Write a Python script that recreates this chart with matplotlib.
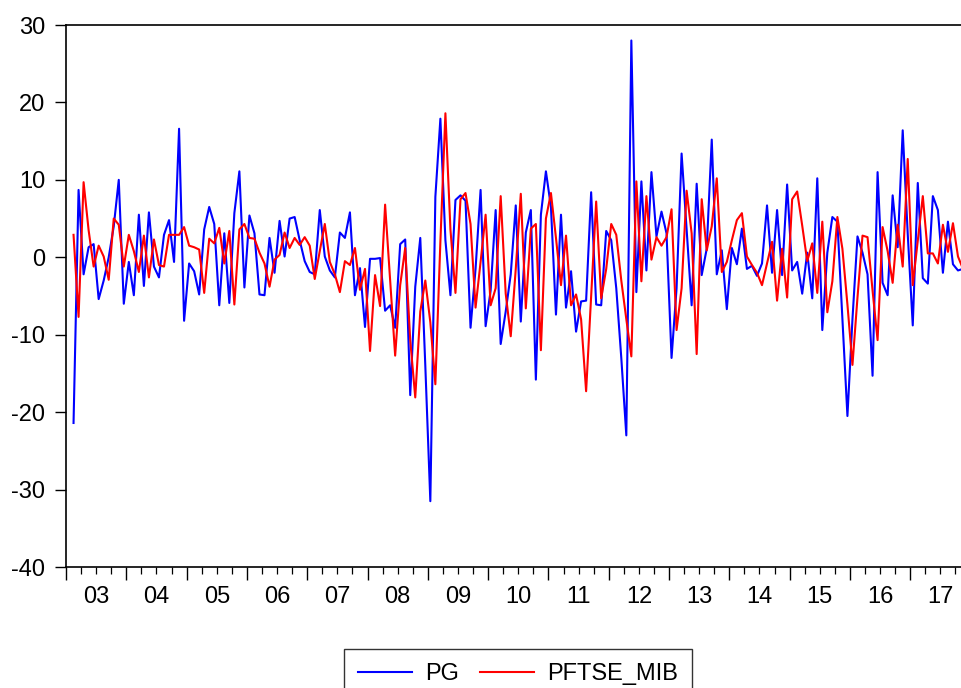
import matplotlib
matplotlib.use("Agg")
import matplotlib.pyplot as plt
import numpy as np

plt.rcParams["font.family"] = ["Liberation Sans", "DejaVu Sans"]
plt.rcParams["axes.unicode_minus"] = False

# monthly returns, 2003M02 .. 2017M11 (month index 1 = Feb 2003)
pg = [-21.4, 8.7, -2.2, 1.3, 1.7, -5.4, -3.0, 0.0, 4.0, 10.0, -6.0, -0.6,
      -4.9, 5.5, -3.7, 5.8, -1.2, -2.6, 2.9, 4.8, -0.6, 16.6, -8.2, -0.8,
      -1.8, -4.8, 3.6, 6.5, 4.3, -6.2, 3.1, -5.9, 5.7, 11.1, -3.9, 5.4,
      3.1, -4.8, -4.9, 2.5, -2.0, 4.7, 0.1, 5.0, 5.2, 2.2, -0.5, -1.9,
      -2.2, 6.1, 0.1, -1.7, -2.6, 3.2, 2.5, 5.8, -4.9, -1.4, -9.0, -0.2,
      -0.2, -0.1, -6.9, -6.2, -9.1, 1.7, 2.3, -17.8, -3.8, 2.5, -14.0, -31.5,
      7.8, 17.9, 2.2, -4.9, 7.4, 8.0, 7.3, -9.1, -1.5, 8.7, -8.9, -4.3,
      6.1, -11.2, -7.0, -2.2, 6.7, -8.3, 3.2, 6.1, -15.8, 5.5, 11.1, 6.5,
      -7.4, 5.5, -6.5, -1.8, -9.6, -5.7, -5.6, 8.4, -6.1, -6.2, 3.4, 2.2,
      -4.0, -13.0, -23.0, 28.0, -4.5, 9.8, -1.7, 11.0, 2.7, 5.9, 3.1, -13.0,
      -4.0, 13.4, 3.6, -6.2, 9.5, -2.3, 1.1, 15.2, -2.2, 0.9, -6.7, 1.2,
      -0.9, 3.7, -1.5, -1.1, -2.4, -0.8, 6.7, -2.0, 6.1, -2.3, 9.4, -1.7,
      -0.6, -4.7, 0.6, -5.3, 10.2, -9.4, 0.6, 5.2, 4.6, -8.0, -20.5, -8.0,
      2.7, 0.6, -2.2, -15.3, 11.0, -3.3, -4.9, 8.0, 1.3, 16.4, 3.0, -8.8,
      9.6, -2.7, -3.4, 7.9, 6.1, -2.0, 4.6, -0.9, -1.7, -1.5]

pftse_mib = [2.9, -7.7, 9.7, 3.5, -1.2, 1.5, 0.1, -2.9, 5.0, 4.2, -1.2, 2.9,
             0.8, -1.9, 2.8, -2.6, 2.3, -1.0, -1.2, 2.9, 2.9, 2.9, 3.9, 1.5,
             1.3, 1.0, -4.6, 2.4, 1.8, 3.8, -0.8, 3.4, -6.1, 3.6, 4.3, 2.5,
             2.4, 0.6, -0.8, -3.8, -0.3, 0.3, 3.2, 1.2, 2.5, 1.6, 2.6, 1.5,
             -2.8, 0.8, 4.3, -0.6, -2.2, -4.5, -0.5, -1.0, 1.2, -4.2, -1.5, -12.1,
             -2.3, -6.3, 6.8, -2.9, -12.7, -3.6, 1.2, -10.7, -18.1, -7.0, -3.0, -8.4,
             -16.4, 2.0, 18.6, 3.6, -4.6, 7.5, 8.3, 4.3, -6.5, -0.6, 5.5, -6.2,
             -4.0, 7.9, -4.7, -10.2, -1.5, 8.2, -6.6, 3.7, 4.3, -12.0, 5.0, 8.3,
             2.5, -3.6, 2.8, -6.2, -4.8, -8.0, -17.3, -5.0, 7.2, -5.3, -1.5, 4.3,
             2.9, -3.0, -8.0, -12.8, 9.8, -3.1, 7.9, -0.3, 2.6, 1.5, 2.6, 6.2,
             -9.4, -4.0, 8.6, 3.1, -12.5, 7.5, 0.9, 4.0, 10.2, -1.9, -0.6, 2.2,
             4.8, 5.7, 0.1, -1.0, -2.0, -3.6, -0.8, 2.0, -5.6, 1.1, -5.2, 7.5,
             8.5, 4.1, -0.5, 1.8, -4.6, 4.6, -7.1, -3.1, 5.2, 1.1, -6.1, -13.9,
             -5.2, 2.8, 2.6, -4.3, -10.7, 3.9, 0.8, -3.3, 4.2, -1.2, 12.7, -3.6,
             2.2, 7.9, 0.5, 0.5, -0.8, 4.2, 0.7, 4.4, 0.1, -1.5]

year_labels = ["03", "04", "05", "06", "07", "08", "09", "10",
               "11", "12", "13", "14", "15", "16", "17"]

# month index, point drawn at the middle of its month
months = np.arange(1, len(pg) + 1) + 0.5

FS = 17

fig = plt.figure(figsize=(9.61, 6.88), dpi=100)
ax = fig.add_axes([66 / 961, 121 / 688, 1 - 66 / 961, 542 / 688])

ax.plot(months, pg, color="#0000FF", lw=1.5, label="PG")
ax.plot(months, pftse_mib, color="#FF0000", lw=1.5, label="PFTSE_MIB")

ax.set_ylim(-40, 30)
ax.set_yticks(np.arange(-40, 31, 10))
ax.set_xlim(0, 178.1)

n_years = len(year_labels)
ax.set_xticks(np.arange(0, 12 * n_years, 12))
ax.set_xticklabels([])
ax.set_xticks(np.arange(0, 178, 3), minor=True)
ax.tick_params(axis="x", which="major", direction="out", length=9.5, width=1)
ax.tick_params(axis="x", which="minor", direction="out", length=5, width=0.9)
ax.tick_params(axis="y", direction="out", length=8, width=1, labelsize=FS, pad=7)

sec = ax.secondary_xaxis("bottom")
sec.set_xticks(np.arange(6, 12 * n_years, 12))
sec.set_xticklabels(year_labels)
sec.tick_params(length=0, labelsize=FS, pad=14)
sec.spines["bottom"].set_visible(False)

ax.spines["right"].set_visible(False)
for s in ["left", "top", "bottom"]:
    ax.spines[s].set_linewidth(1.2)

leg = fig.legend(loc="upper center", bbox_to_anchor=(518 / 961, 1 - 649 / 688),
                 ncol=2, fontsize=FS, frameon=True, fancybox=False,
                 edgecolor="black", handlelength=2.3, handletextpad=0.55,
                 columnspacing=0.9, borderpad=0.6, borderaxespad=0)
leg.get_frame().set_linewidth(1.0)

fig.savefig("out.png", dpi=100)
